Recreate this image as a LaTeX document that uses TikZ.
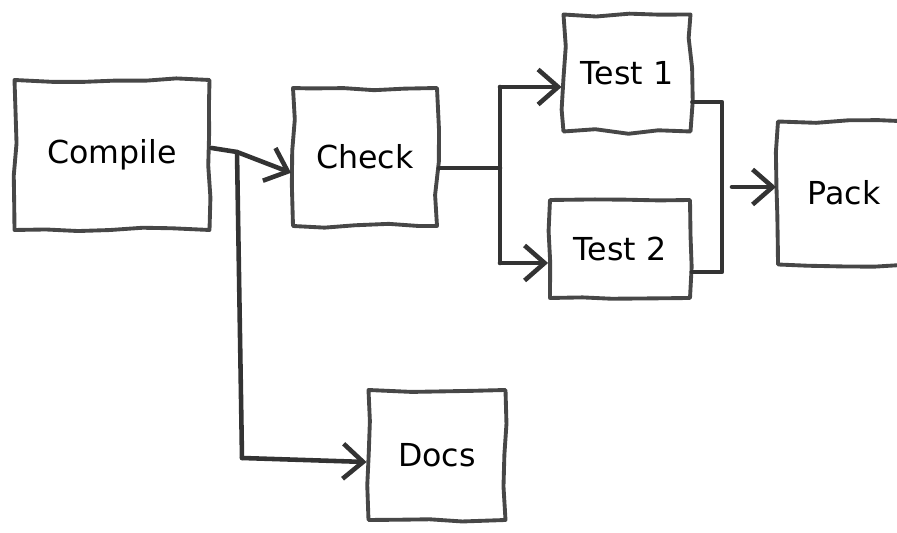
\documentclass[tikz,border=0pt]{standalone}
\usepackage{fontspec}
\setmainfont{DejaVu Sans}
\usetikzlibrary{positioning,arrows.meta,decorations.pathmorphing,calc}
\tikzset{
  pipe/.style={draw=black!80,line width=2.6pt,line join=round,line cap=round},
  pipearr/.style={pipe,-{Straight Barb[length=4mm,width=7mm]}},
  stage/.style={draw=black!72,line width=2.2pt,line join=round,
                decorate,decoration={random steps,segment length=18pt,amplitude=1.3pt},
                align=center,inner sep=0pt}
}

\begin{document}
\begin{tikzpicture}[every node/.style={font=\fontsize{18}{22}\selectfont}]
\useasboundingbox (0,0) rectangle (17.94,10.66);
\pgfmathsetseed{7}
\node[stage, minimum width=3.9cm, minimum height=3.0cm] (compile) at (2.24,7.56) {Compile};
\node[stage, minimum width=2.88cm, minimum height=2.76cm] (check) at (7.30,7.52) {Check};
\node[stage, minimum width=2.54cm, minimum height=2.34cm] (test1) at (12.54,9.20) {Test 1};
\node[stage, minimum width=2.8cm, minimum height=1.96cm] (test2) at (12.40,5.68) {Test 2};
\node[stage, minimum width=2.64cm, minimum height=2.86cm] (pack) at (16.88,6.80) {Pack};
\node[stage, minimum width=2.74cm, minimum height=2.6cm] (docs) at (8.74,1.56) {Docs};

\coordinate (split) at (4.74,7.62);
\coordinate (docsbend) at (4.84,1.50);
\coordinate (fork) at (10.0,7.30);
\coordinate (forktop) at (10.0,8.92);
\coordinate (forkbot) at (10.0,5.40);
\coordinate (jointop) at (14.44,8.62);
\coordinate (joinbot) at (14.44,5.22);
\coordinate (joinmid) at (14.64,6.92);

% compile -> check, docs
\draw[pipearr] ([yshift=4pt]compile.east) -- (split) -- ([yshift=-9pt]check.west);
\draw[pipe] (split) -- (docsbend);
\draw[pipearr] (docsbend) -- ([yshift=-4pt]docs.west);

% check -> tests
\draw[pipe] (fork -| check.east) -- (fork);
\draw[pipe] (forktop) -- (forkbot);
\draw[pipearr] (forktop) -- (forktop -| test1.west);
\draw[pipearr] (forkbot) -- (forkbot -| test2.west);

% tests -> pack
\draw[pipe] (jointop -| test1.east) -- (jointop) -- (joinbot) -- (joinbot -| test2.east);
\draw[pipearr] (joinmid) -- (joinmid -| pack.west);
\end{tikzpicture}
\end{document}
